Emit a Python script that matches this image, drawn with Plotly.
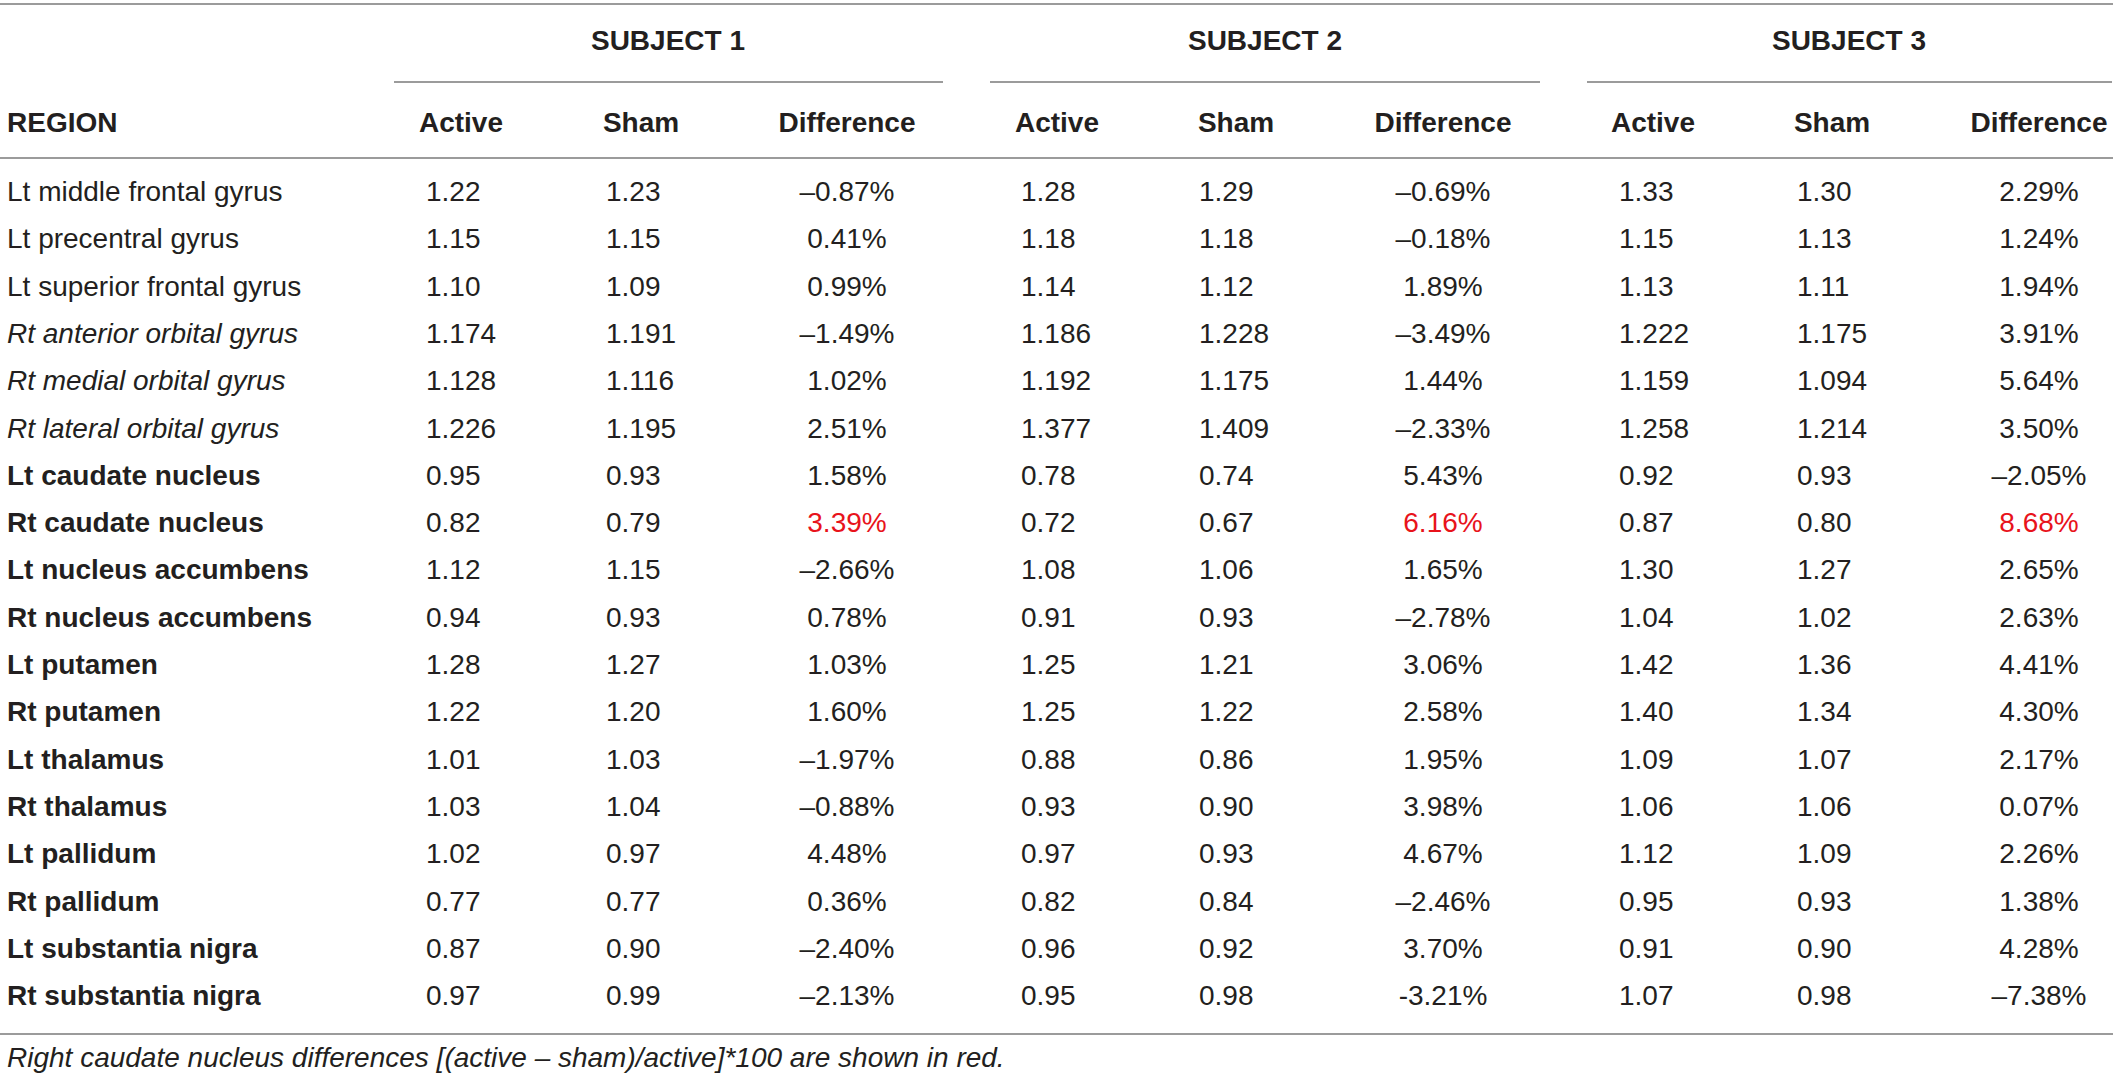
import plotly.graph_objects as go

# table content
regions = [
    "Lt middle frontal gyrus", "Lt precentral gyrus", "Lt superior frontal gyrus",
    "Rt anterior orbital gyrus", "Rt medial orbital gyrus", "Rt lateral orbital gyrus",
    "Lt caudate nucleus", "Rt caudate nucleus", "Lt nucleus accumbens",
    "Rt nucleus accumbens", "Lt putamen", "Rt putamen", "Lt thalamus",
    "Rt thalamus", "Lt pallidum", "Rt pallidum", "Lt substantia nigra",
    "Rt substantia nigra",
]
region_style = ["n"] * 3 + ["i"] * 3 + ["b"] * 12

subjects = ["SUBJECT 1", "SUBJECT 2", "SUBJECT 3"]
col_names = ["Active", "Sham", "Difference"]

s1_active = ["1.22", "1.15", "1.10", "1.174", "1.128", "1.226", "0.95", "0.82", "1.12",
             "0.94", "1.28", "1.22", "1.01", "1.03", "1.02", "0.77", "0.87", "0.97"]
s1_sham = ["1.23", "1.15", "1.09", "1.191", "1.116", "1.195", "0.93", "0.79", "1.15",
           "0.93", "1.27", "1.20", "1.03", "1.04", "0.97", "0.77", "0.90", "0.99"]
s1_diff = ["–0.87%", "0.41%", "0.99%", "–1.49%", "1.02%", "2.51%", "1.58%", "3.39%", "–2.66%",
           "0.78%", "1.03%", "1.60%", "–1.97%", "–0.88%", "4.48%", "0.36%", "–2.40%", "–2.13%"]

s2_active = ["1.28", "1.18", "1.14", "1.186", "1.192", "1.377", "0.78", "0.72", "1.08",
             "0.91", "1.25", "1.25", "0.88", "0.93", "0.97", "0.82", "0.96", "0.95"]
s2_sham = ["1.29", "1.18", "1.12", "1.228", "1.175", "1.409", "0.74", "0.67", "1.06",
           "0.93", "1.21", "1.22", "0.86", "0.90", "0.93", "0.84", "0.92", "0.98"]
s2_diff = ["–0.69%", "–0.18%", "1.89%", "–3.49%", "1.44%", "–2.33%", "5.43%", "6.16%", "1.65%",
           "–2.78%", "3.06%", "2.58%", "1.95%", "3.98%", "4.67%", "–2.46%", "3.70%", "-3.21%"]

s3_active = ["1.33", "1.15", "1.13", "1.222", "1.159", "1.258", "0.92", "0.87", "1.30",
             "1.04", "1.42", "1.40", "1.09", "1.06", "1.12", "0.95", "0.91", "1.07"]
s3_sham = ["1.30", "1.13", "1.11", "1.175", "1.094", "1.214", "0.93", "0.80", "1.27",
           "1.02", "1.36", "1.34", "1.07", "1.06", "1.09", "0.93", "0.90", "0.98"]
s3_diff = ["2.29%", "1.24%", "1.94%", "3.91%", "5.64%", "3.50%", "–2.05%", "8.68%", "2.65%",
           "2.63%", "4.41%", "4.30%", "2.17%", "0.07%", "2.26%", "1.38%", "4.28%", "–7.38%"]

highlight_region = "Rt caudate nucleus"
footnote = "Right caudate nucleus differences [(active – sham)/active]*100 are shown in red."

# layout (pixels)
W, H = 2117, 1083
ROW0, PITCH = 194, 47.3
FONT = "Liberation Sans"
SIZE = 28
INK = "#231f20"
RED = "#e8131b"
RULE = "#9b9b9b"

x_region = 7
x_active_left = [426, 1021, 1619]
x_sham_left = [606, 1199, 1797]
x_active_head = [461, 1057, 1653]
x_sham_head = [641, 1236, 1832]
x_diff = [847, 1443, 2039]
x_subject = [668, 1265, 1849]
underline = [(394, 943), (990, 1540), (1587, 2112)]


def py(p):
    # pixel row -> row-index units on the y axis
    return (p - ROW0) / PITCH


rows = list(range(len(regions)))
y_subject, y_under, y_head = py(43), py(82), py(125)
y_top, y_headrule, y_bottom, y_note = py(4), py(158), py(1034), py(1060)


def styled(t, s):
    if s == "b":
        return "<b>" + t + "</b>"
    if s == "i":
        return "<i>" + t + "</i>"
    return t


fig = go.Figure()


def add_text(xs, ys, texts, pos, colors=INK, size=SIZE):
    fig.add_trace(go.Scatter(
        x=xs, y=ys, text=texts, mode="text", textposition=pos,
        textfont=dict(family=FONT, size=size, color=colors),
        hoverinfo="skip", showlegend=False))


add_text([x_region] * len(rows), rows,
         [styled(r, s) for r, s in zip(regions, region_style)], "middle right")

for k, (act, sham, diff) in enumerate([(s1_active, s1_sham, s1_diff),
                                       (s2_active, s2_sham, s2_diff),
                                       (s3_active, s3_sham, s3_diff)]):
    add_text([x_active_left[k]] * len(rows), rows, act, "middle right")
    add_text([x_sham_left[k]] * len(rows), rows, sham, "middle right")
    cols = [RED if r == highlight_region else INK for r in regions]
    add_text([x_diff[k]] * len(rows), rows, diff, "middle center", colors=cols)

    add_text([x_subject[k]], [y_subject], ["<b>" + subjects[k] + "</b>"], "middle center")
    add_text([x_active_head[k], x_sham_head[k], x_diff[k]], [y_head] * 3,
             ["<b>" + c + "</b>" for c in col_names], "middle center")

add_text([x_region], [y_head], ["<b>REGION</b>"], "middle right")
add_text([x_region], [y_note], ["<i>" + footnote + "</i>"], "middle right")

for yy in (y_top, y_headrule, y_bottom):
    fig.add_shape(type="line", x0=0, x1=W - 4, y0=yy, y1=yy,
                  line=dict(color=RULE, width=2))
for a, b in underline:
    fig.add_shape(type="line", x0=a, x1=b, y0=y_under, y1=y_under,
                  line=dict(color=RULE, width=2))

fig.update_layout(
    width=W, height=H,
    margin=dict(l=0, r=0, t=0, b=0),
    paper_bgcolor="white", plot_bgcolor="white",
    xaxis=dict(range=[0, W], visible=False, fixedrange=True),
    yaxis=dict(range=[py(H), py(0)], visible=False, fixedrange=True),
)

# drop the page's default body margin so the table sits flush like the reference
fig.write_html("out.html", config={"displayModeBar": False},
               post_script="document.body.style.margin='0px';")
